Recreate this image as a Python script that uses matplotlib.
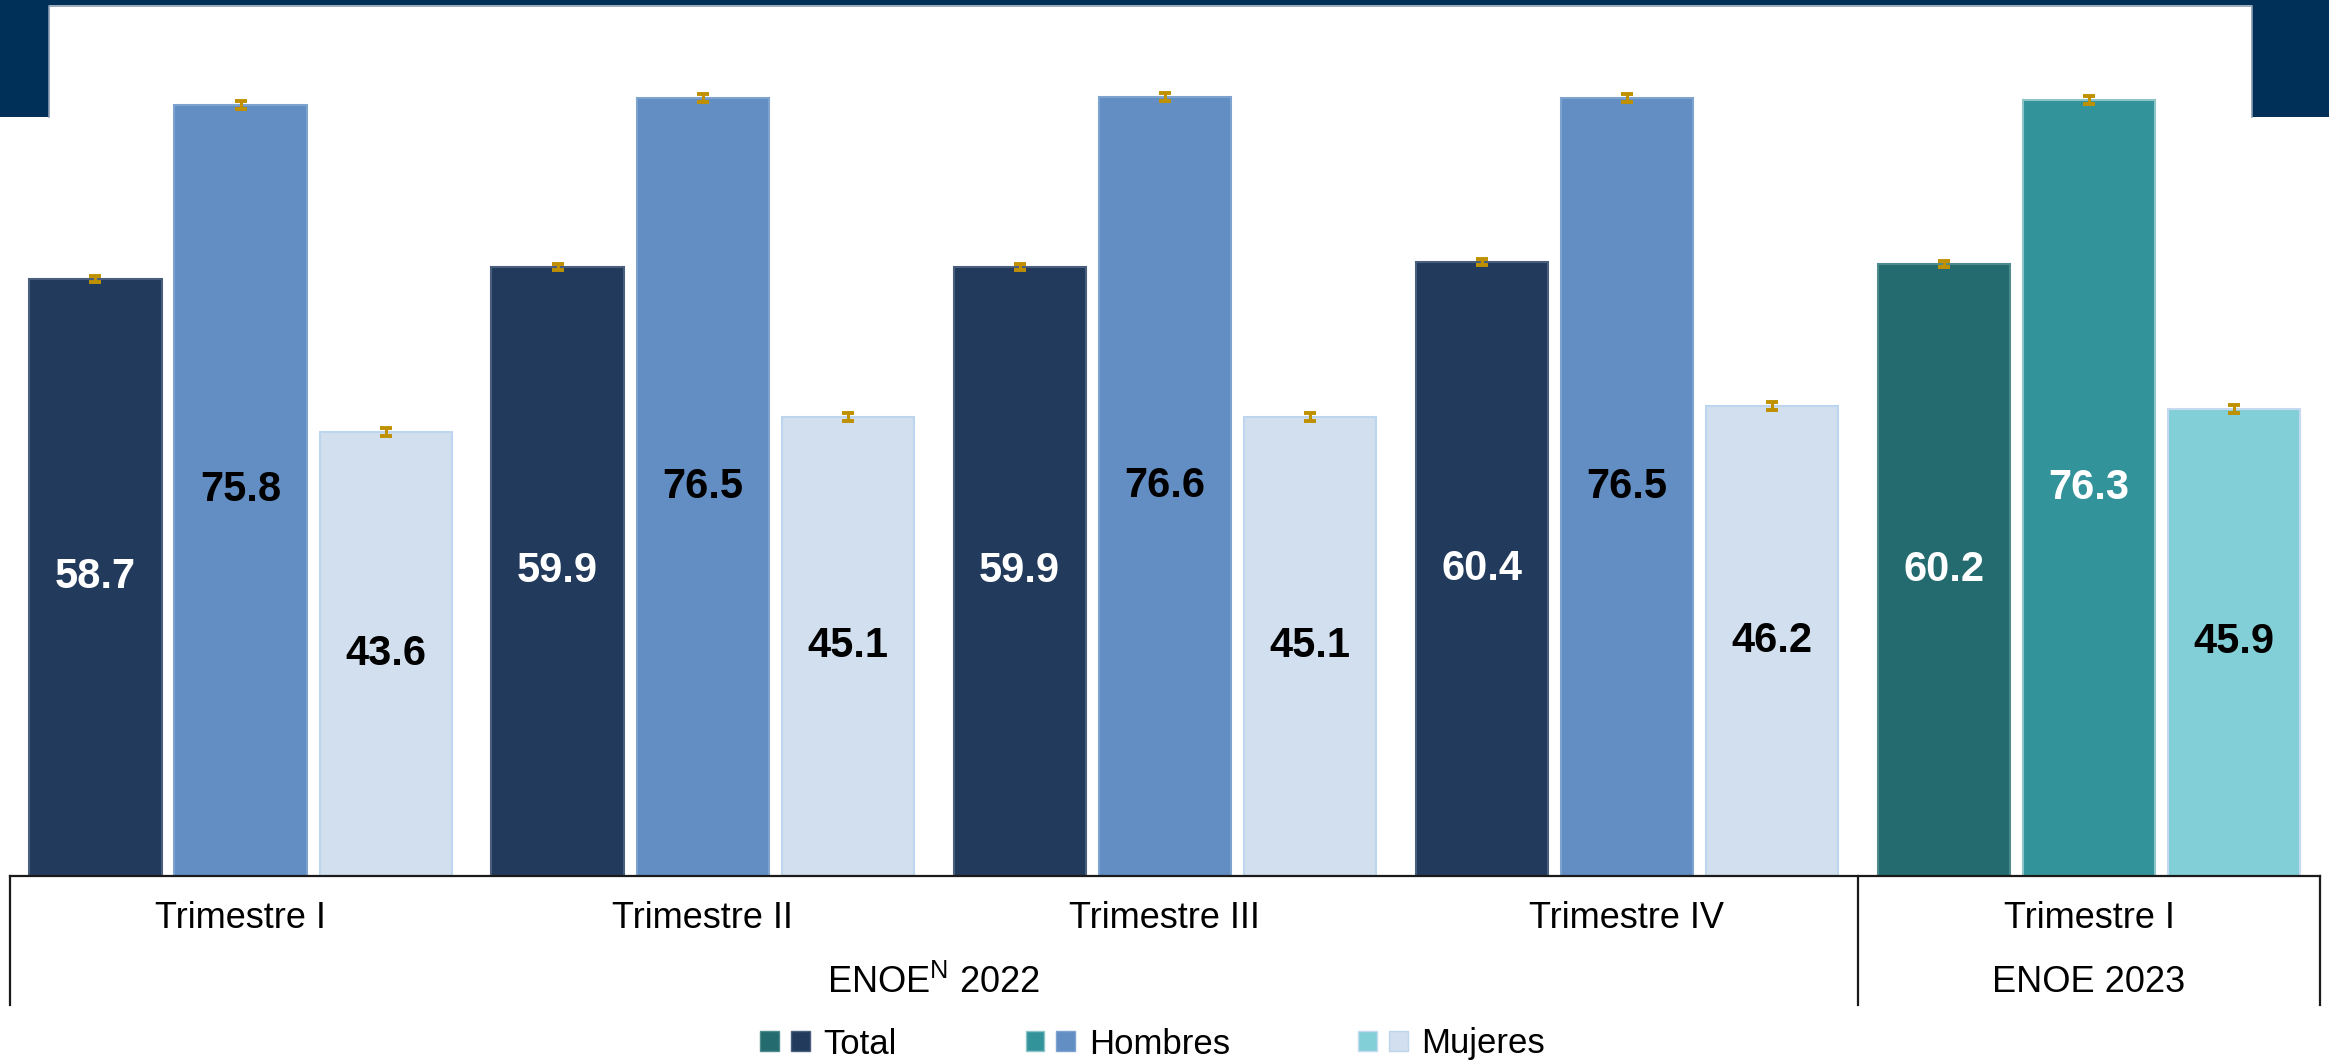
import numpy as np
import matplotlib
matplotlib.use("Agg")
import matplotlib.pyplot as plt
from matplotlib.patches import Rectangle, Patch
from matplotlib.lines import Line2D
from matplotlib.legend_handler import HandlerTuple
import matplotlib.transforms as mtransforms

plt.rcParams['font.family'] = ['Liberation Sans', 'DejaVu Sans']
plt.rcParams['mathtext.fontset'] = 'custom'
plt.rcParams['mathtext.rm'] = 'Liberation Sans'

# data
quarters = ['Trimestre I', 'Trimestre II', 'Trimestre III', 'Trimestre IV', 'Trimestre I']
total = [58.7, 59.9, 59.9, 60.4, 60.2]
hombres = [75.8, 76.5, 76.6, 76.5, 76.3]
mujeres = [43.6, 45.1, 45.1, 46.2, 45.9]
total_err = [0.3, 0.3, 0.3, 0.3, 0.3]
hombres_err = [0.4, 0.4, 0.4, 0.4, 0.4]
mujeres_err = [0.4, 0.4, 0.4, 0.4, 0.4]
surveys = ['ENOE$^{\\mathrm{N}}$ 2022', 'ENOE 2023']
survey_span = [(0, 3), (4, 4)]
series_names = ['Total', 'Hombres', 'Mujeres']

# colours: 2022 palette for first four groups, 2023 palette for the last
pal_2022 = ['#223A5C', '#628EC3', '#D1DFEE']
pal_2023 = ['#236B6E', '#33939B', '#82CFD7']
edge_2022 = ['#4A5F7E', '#7FA3CF', '#BDD5EE']
edge_2023 = ['#4F8A8C', '#8CC4C9', '#C5DAF0']
lbl_2022 = ['white', 'black', 'black']
lbl_2023 = ['white', 'white', 'black']
err_color = '#BF9000'
navy = '#003057'

W, H = 2329, 1064
fig = plt.figure(figsize=(W / 100, H / 100), dpi=100)

px_per_unit = 10.167
ymax = 86
base_y = 875.7
ax_left, ax_right = 9.5, 2320
ax = fig.add_axes([ax_left / W, (H - base_y) / H, (ax_right - ax_left) / W,
                   ymax * px_per_unit / H])
ax.set_xlim(-0.5, 4.5)
ax.set_ylim(0, ymax)

x = np.arange(len(quarters))
offset = 0.314
width = 0.286
series = [total, hombres, mujeres]
errs = [total_err, hombres_err, mujeres_err]

for k, (vals, ev) in enumerate(zip(series, errs)):
    xs = x + (k - 1) * offset
    colors = [pal_2022[k]] * 4 + [pal_2023[k]]
    edges = [edge_2022[k]] * 4 + [edge_2023[k]]
    bars = ax.bar(xs, vals, width=width, color=colors, edgecolor=edges,
                  linewidth=1.5, zorder=2)
    ax.errorbar(xs, vals, yerr=ev, fmt='none', ecolor=err_color,
                elinewidth=2.2, capsize=4, capthick=2.8, zorder=3)
    for i, b in enumerate(bars):
        c = lbl_2022[k] if i < 4 else lbl_2023[k]
        ax.text(b.get_x() + b.get_width() / 2, vals[i] / 2, f'{vals[i]:.1f}',
                ha='center', va='center', fontsize=30, fontweight='bold',
                color=c, zorder=4)

# axis look
for s in ['top', 'left', 'right']:
    ax.spines[s].set_visible(False)
ax.spines['bottom'].set_color('#1a1a1a')
ax.spines['bottom'].set_linewidth(1.6)
ax.set_xticks([])
ax.set_yticks([])
ax.patch.set_alpha(0)

# category table below the axis
trans = mtransforms.blended_transform_factory(ax.transData, ax.transAxes)
axh = ymax * px_per_unit
row1 = -(918 - base_y) / axh
row2 = -(983 - base_y) / axh
line_bottom = -(1005 - base_y) / axh
for xi, q in zip(x, quarters):
    ax.text(xi, row1, q, transform=trans, ha='center', va='center', fontsize=26)
for name, (a, b) in zip(surveys, survey_span):
    ax.text((a + b) / 2, row2, name, transform=trans, ha='center',
            va='center', fontsize=26)
for xv in [-0.5, 3.5, 4.5]:
    ax.plot([xv, xv], [0, line_bottom], transform=trans, color='#1a1a1a',
            lw=1.6, clip_on=False)

# legend with paired swatches (2023, 2022)
handles = []
for k in range(3):
    handles.append((Patch(facecolor=pal_2023[k], edgecolor=edge_2023[k], lw=1),
                    Patch(facecolor=pal_2022[k], edgecolor=edge_2022[k], lw=1)))
fig.legend(handles, series_names, handler_map={tuple: HandlerTuple(ndivide=None, pad=0.36)},
           loc='center', bbox_to_anchor=(0.495, (H - 1044) / H), ncol=3,
           frameon=False, fontsize=25, handlelength=1.42, handleheight=0.53,
           handletextpad=0.4, columnspacing=3.7, borderpad=0)

# navy header frame
fig.add_artist(Rectangle((0, 1 - 5 / H), 1, 5 / H, transform=fig.transFigure,
                         facecolor=navy, edgecolor='none'))
fig.add_artist(Rectangle((0, 1 - 117 / H), 49 / W, 117 / H, transform=fig.transFigure,
                         facecolor=navy, edgecolor='none'))
fig.add_artist(Rectangle((2252 / W, 1 - 117 / H), 77 / W, 117 / H,
                         transform=fig.transFigure, facecolor=navy, edgecolor='none'))
fig.add_artist(Line2D([49 / W, 49 / W, 2252 / W, 2252 / W],
                      [1 - 117 / H, 1 - 5.5 / H, 1 - 5.5 / H, 1 - 117 / H],
                      transform=fig.transFigure, color='#8A9BB3', lw=1.2))

fig.savefig('out.png', dpi=100)
